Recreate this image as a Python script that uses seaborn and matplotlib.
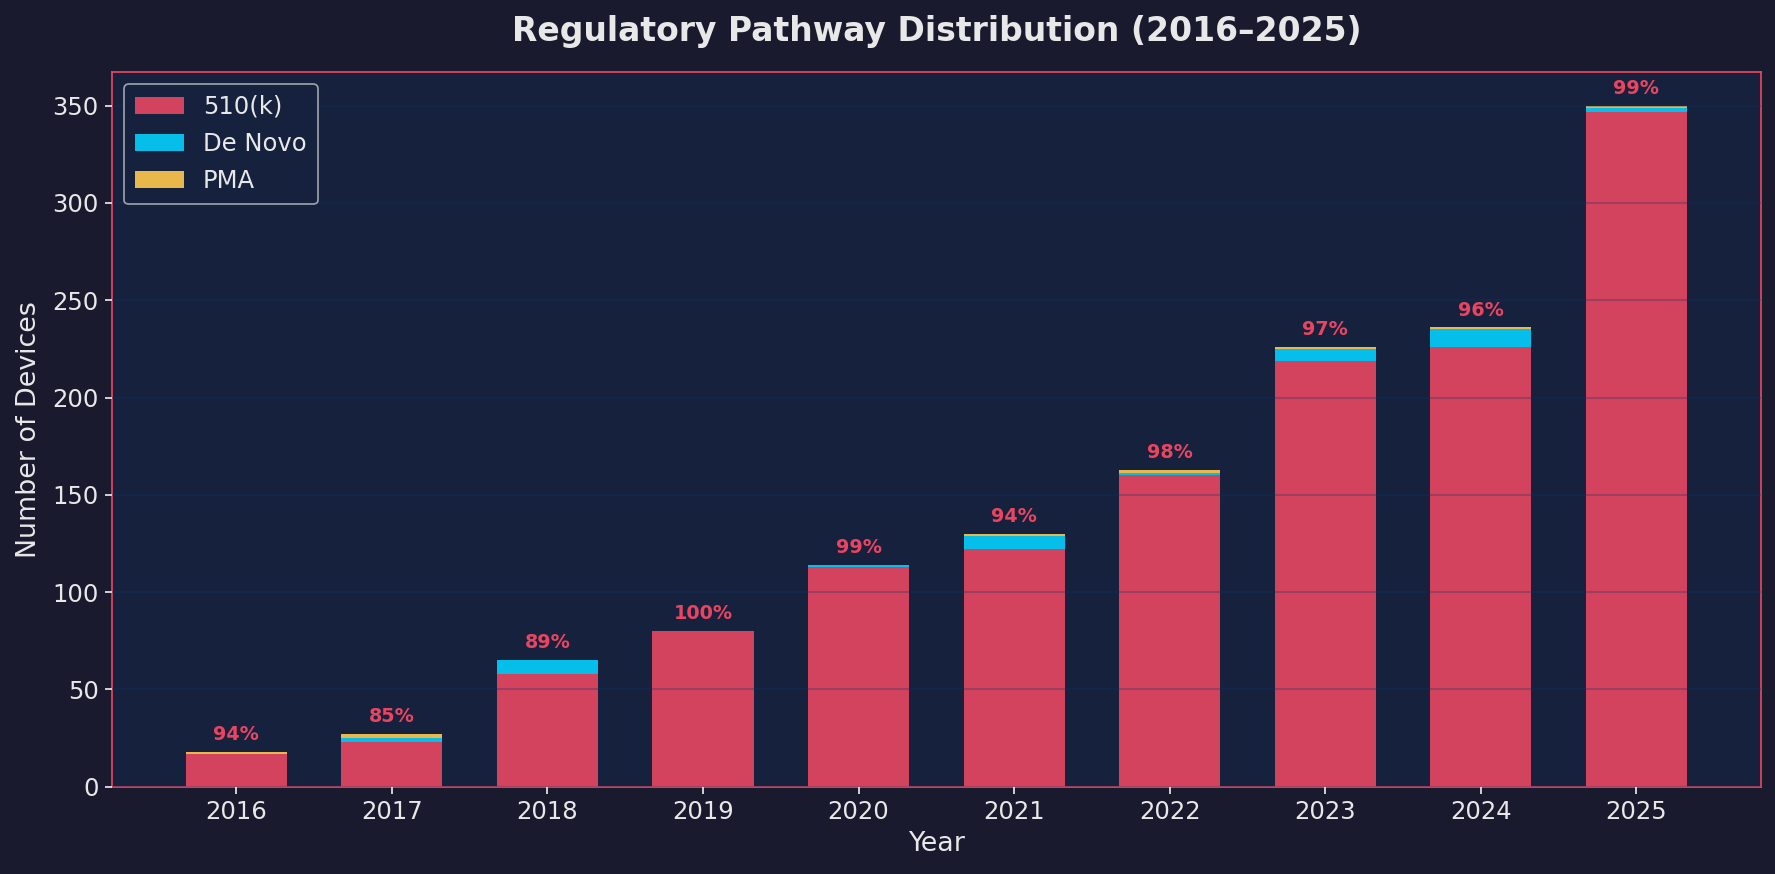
import matplotlib
matplotlib.use("Agg")
import matplotlib.pyplot as plt
import seaborn as sns
import numpy as np
import pandas as pd
from matplotlib.patches import Patch

years = ["2016", "2017", "2018", "2019", "2020", "2021", "2022", "2023", "2024", "2025"]
k510 = [17, 23, 58, 80, 113, 122, 160, 219, 226, 347]
de_novo = [0, 2, 7, 0, 1, 7, 1, 6, 9, 2]
pma = [1, 2, 0, 0, 0, 1, 2, 1, 1, 1]

c_510 = "#d4435e"
c_dn = "#05bfea"
c_pma = "#e8b84a"
bg_fig = "#1a1a2e"
bg_ax = "#16213e"
accent = "#e94560"
txt = "#e8e8e8"

sns.set_theme(style="dark")
plt.rcParams['font.family'] = ['DejaVu Sans']

df = pd.DataFrame({"Year": years, "k510": k510, "dn": de_novo, "pma": pma})
df["lvl2"] = df["k510"] + df["dn"]
df["total"] = df["lvl2"] + df["pma"]

fig, ax = plt.subplots(figsize=(14.2, 6.992), dpi=125)
fig.patch.set_facecolor(bg_fig)
ax.set_facecolor(bg_ax)

for col, c in [("total", c_pma), ("lvl2", c_dn), ("k510", c_510)]:
    sns.barplot(data=df, x="Year", y=col, color=c, width=0.65, saturation=1,
                linewidth=0, edgecolor="none", ax=ax, zorder=2)

for i, row in df.iterrows():
    pct = row["k510"] / row["total"] * 100
    ax.text(i, row["total"] + 4, f"{pct:.0f}%", ha="center", va="bottom",
            color=accent, fontsize=11, fontweight="bold", zorder=4)

ax.set_ylim(0, 367.5)
ax.set_xlim(-0.8, 9.8)
ax.yaxis.grid(True, color="#0f3460", alpha=0.28, linewidth=1.2, zorder=3)
ax.set_axisbelow(False)
ax.xaxis.grid(False)

for s in ax.spines.values():
    s.set_visible(True)
    s.set_color(accent)
    s.set_linewidth(1)

ax.tick_params(axis="both", colors=txt, labelsize=14, length=4, width=1, bottom=True, left=True)
for lab in ax.get_xticklabels() + ax.get_yticklabels():
    lab.set_color(txt)
ax.set_xlabel("Year", color=txt, fontsize=15.5, labelpad=4)
ax.set_ylabel("Number of Devices", color=txt, fontsize=15.5, labelpad=6)
ax.set_title("Regulatory Pathway Distribution (2016\u20132025)", color=txt, fontsize=19,
             fontweight="bold", pad=17.5)

handles = [Patch(facecolor=c_510, edgecolor="none", linewidth=0, label="510(k)"),
           Patch(facecolor=c_dn, edgecolor="none", linewidth=0, label="De Novo"),
           Patch(facecolor=c_pma, edgecolor="none", linewidth=0, label="PMA")]
leg = ax.legend(handles=handles, loc="upper left", fontsize=14, facecolor=bg_ax,
                edgecolor="#9aa0aa", labelcolor=txt, framealpha=1, borderpad=0.45,
                labelspacing=0.55)

fig.subplots_adjust(left=0.063, right=0.992, top=0.918, bottom=0.10)
fig.savefig("out.png", dpi=125, facecolor=bg_fig)
